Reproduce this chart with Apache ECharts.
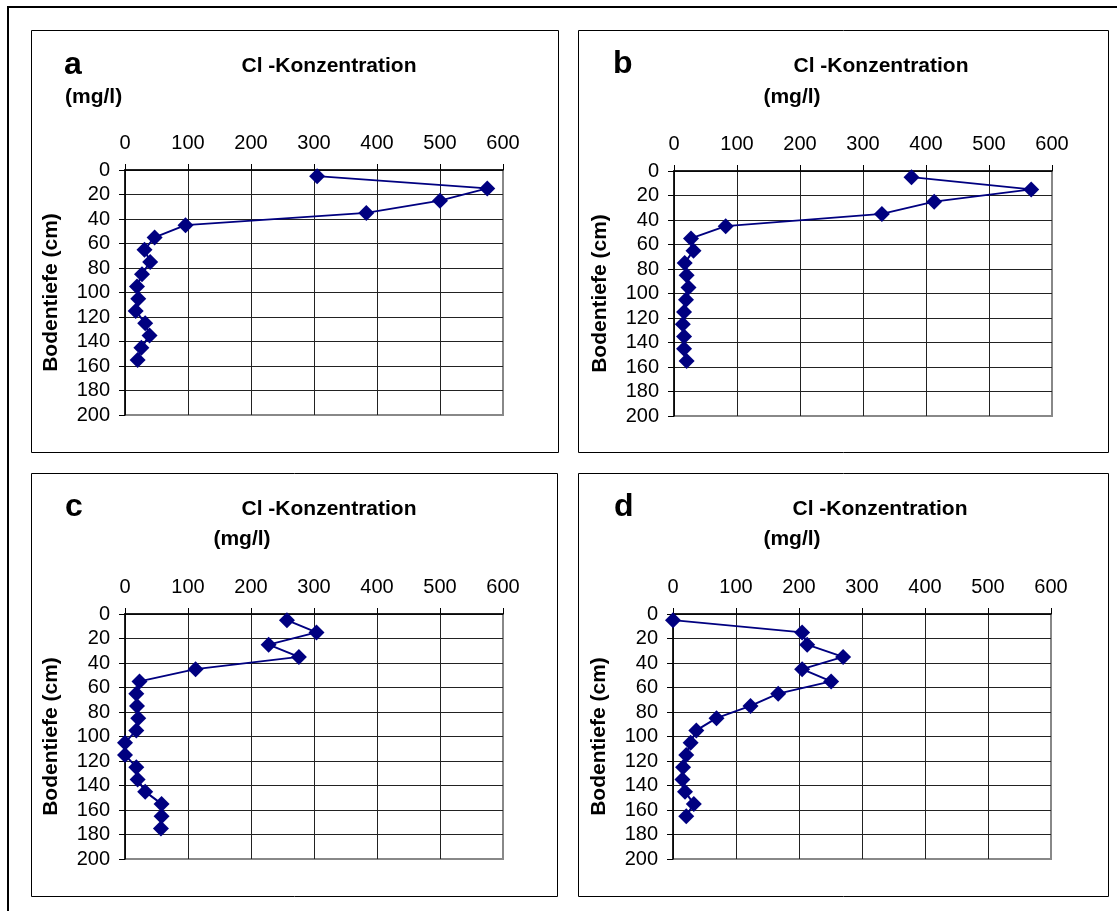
<!DOCTYPE html>
<html>
<head>
<meta charset="utf-8">
<script src="https://cdn.jsdelivr.net/npm/echarts@6/dist/echarts.min.js"></script>
<style>
html,body{margin:0;padding:0;background:#fff;}
#chart{width:1117px;height:911px;}
</style>
</head>
<body>
<div id="chart"></div>
<script>
// ---- data ----
var panelLetters = ['a', 'b', 'c', 'd'];
var chartTitle = 'Cl -Konzentration';
var unitLabel = '(mg/l)';
var yAxisTitle = 'Bodentiefe (cm)';
var xTicks = [0, 100, 200, 300, 400, 500, 600];
var yTicks = [0, 20, 40, 60, 80, 100, 120, 140, 160, 180, 200];

var depthA = [5, 15, 25, 35, 45, 55, 65, 75, 85, 95, 105, 115, 125, 135, 145, 155];
var concA  = [305, 575, 500, 383, 96, 47, 31, 40, 27, 19, 21, 17, 32, 39, 26, 20];

var depthB = [5, 15, 25, 35, 45, 55, 65, 75, 85, 95, 105, 115, 125, 135, 145, 155];
var concB  = [377, 567, 413, 330, 82, 27, 31, 17, 20, 23, 19, 16, 14, 16, 16, 20];

var depthC = [5, 15, 25, 35, 45, 55, 65, 75, 85, 95, 105, 115, 125, 135, 145, 155, 165, 175];
var concC  = [257, 304, 228, 276, 112, 23, 18, 19, 21, 18, 0, 0, 18, 20, 32, 58, 58, 57];

var depthD = [5, 15, 25, 35, 45, 55, 65, 75, 85, 95, 105, 115, 125, 135, 145, 155, 165];
var concD  = [0, 205, 213, 270, 205, 251, 167, 123, 69, 37, 28, 21, 16, 15, 19, 33, 21];

// ---- layout / style ----
var FONT = "'Liberation Sans', Arial, sans-serif";
var NAVY = '#000080';
var grids = [
  {left: 125, top: 170, width: 378, height: 245},
  {left: 674, top: 171, width: 378, height: 245},
  {left: 125, top: 614, width: 378, height: 245},
  {left: 673, top: 614, width: 378, height: 245}
];
var boxes = [
  [31, 30, 527, 422], [578, 30, 530, 422],
  [31, 473, 526, 423], [578, 473, 530, 423]
];
var letterPos = [[64, 65], [613, 64], [65, 507], [614, 507]];
var titlePos = [[329, 66], [881, 66], [329, 509], [880, 509]];
var unitPos = [[65, 97, 'left'], [792, 97, 'center'], [242, 539, 'center'], [792, 539, 'center']];

var datasets = [[concA, depthA], [concB, depthB], [concC, depthC], [concD, depthD]];

function pairs(xs, ys) {
  return xs.map(function (v, i) { return [v, ys[i]]; });
}
function splitColors(n) {
  var arr = [];
  for (var i = 0; i < n - 1; i++) arr.push('#222');
  arr.push('#888');
  return arr;
}

var option = {
  backgroundColor: '#ffffff',
  animation: false,
  textStyle: {fontFamily: FONT},
  grid: grids.map(function (g) {
    return {left: g.left, top: g.top, width: g.width, height: g.height,
            show: true, borderColor: '#888', borderWidth: 2, backgroundColor: 'transparent'};
  }),
  xAxis: grids.map(function (g, i) {
    return {
      type: 'value', gridIndex: i, position: 'top',
      min: xTicks[0], max: xTicks[xTicks.length - 1], interval: xTicks[1] - xTicks[0],
      axisLine: {show: true, onZero: false, lineStyle: {color: '#000', width: 1.5}},
      axisTick: {show: true, inside: false, length: 6, lineStyle: {color: '#000', width: 1}},
      axisLabel: {fontSize: 20, color: '#000', margin: 17, fontFamily: FONT},
      splitLine: {show: true, lineStyle: {color: splitColors(xTicks.length), width: 1}}
    };
  }),
  yAxis: grids.map(function (g, i) {
    return {
      type: 'value', gridIndex: i, inverse: true,
      min: yTicks[0], max: yTicks[yTicks.length - 1], interval: yTicks[1] - yTicks[0],
      name: yAxisTitle, nameLocation: 'middle', nameRotate: 90, nameGap: 63,
      nameTextStyle: {fontSize: 21, fontWeight: 'bold', color: '#000', fontFamily: FONT},
      axisLine: {show: true, onZero: false, lineStyle: {color: '#000', width: 1.5}},
      axisTick: {show: true, inside: false, length: 6, lineStyle: {color: '#000', width: 1}},
      axisLabel: {fontSize: 20, color: '#000', margin: 15, fontFamily: FONT},
      splitLine: {show: true, lineStyle: {color: splitColors(yTicks.length), width: 1}}
    };
  }),
  series: datasets.map(function (d, i) {
    return {
      type: 'line', xAxisIndex: i, yAxisIndex: i,
      data: pairs(d[0], d[1]),
      symbol: 'diamond', symbolSize: 16,
      lineStyle: {color: NAVY, width: 2},
      itemStyle: {color: NAVY},
      z: 5
    };
  }),
  graphic: []
};

// outer frame
option.graphic.push({type: 'rect', shape: {x: 8, y: 7, width: 1130, height: 930},
  style: {fill: 'none', stroke: '#000', lineWidth: 2}, silent: true, z: 100});
boxes.forEach(function (b) {
  option.graphic.push({type: 'rect', shape: {x: b[0] + 0.5, y: b[1] + 0.5, width: b[2], height: b[3]},
    style: {fill: 'none', stroke: '#000', lineWidth: 1}, silent: true, z: 100});
});
panelLetters.forEach(function (L, i) {
  option.graphic.push({type: 'text', left: letterPos[i][0], z: 100,
    style: {text: L, x: letterPos[i][0], y: letterPos[i][1], fill: '#000',
      font: 'bold 32px ' + FONT, textAlign: 'left', textVerticalAlign: 'middle', verticalAlign: 'middle'}});
  option.graphic.push({type: 'text', z: 100,
    style: {text: chartTitle, x: titlePos[i][0], y: titlePos[i][1], fill: '#000',
      font: 'bold 21px ' + FONT, textAlign: 'center', align: 'center', textVerticalAlign: 'middle', verticalAlign: 'middle'}});
  option.graphic.push({type: 'text', z: 100,
    style: {text: unitLabel, x: unitPos[i][0], y: unitPos[i][1], fill: '#000',
      font: 'bold 21px ' + FONT, textAlign: unitPos[i][2], align: unitPos[i][2], textVerticalAlign: 'middle', verticalAlign: 'middle'}});
});
// remove stray 'left' on letters (positions given via style x/y)
option.graphic.forEach(function (g) { delete g.left; });

var chart = echarts.init(document.getElementById('chart'), null, {renderer: 'canvas'});
chart.setOption(option);
</script>
</body>
</html>
